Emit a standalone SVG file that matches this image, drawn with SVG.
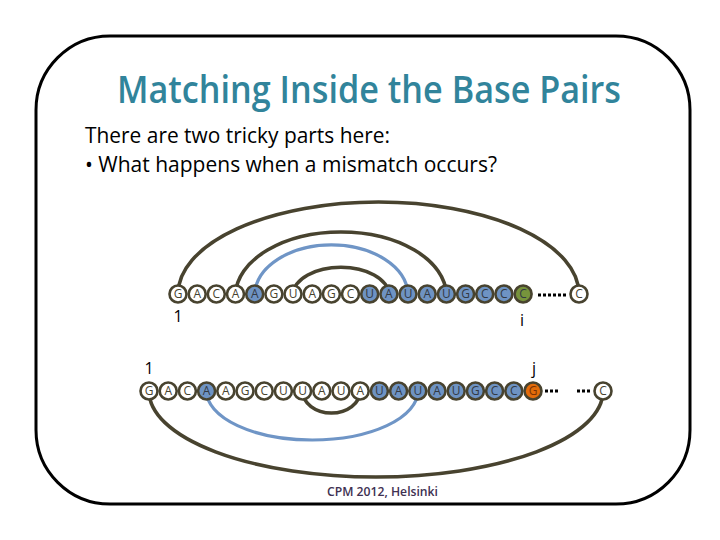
<svg xmlns="http://www.w3.org/2000/svg" width="720" height="540" viewBox="0 0 720 540">
<style>
.frame{fill:#fff;stroke:#000;stroke-width:3}
.title{font-family:"Open Sans","Liberation Sans",sans-serif;font-weight:600;font-size:38px;fill:#31849B}
.body{font-family:"Open Sans","Liberation Sans",sans-serif;font-size:22px;fill:#000}
.lbl{font-family:"Open Sans","Liberation Sans",sans-serif;font-size:16px;fill:#000}
.foot{font-family:"Open Sans","Liberation Sans",sans-serif;font-size:12px;font-weight:600;fill:#403152}
.arc{fill:none;stroke:#48432F;stroke-width:3.6}
.barc{fill:none;stroke:#6F95C6;stroke-width:3.2}
.dots{fill:none;stroke:#000;stroke-width:3;stroke-dasharray:3 2}
.n circle{stroke:#48432F;stroke-width:2.6}
.w circle{fill:#fff}
.b circle{fill:#6E93C3}
.g circle{fill:#77933C}
.o circle{fill:#E36C0A}
.n text{font-family:"Open Sans","Liberation Sans",sans-serif;font-size:12px;text-anchor:middle;fill:#48432F}
.b text,.g text{fill:#333a44}
.o text{fill:#7a3305}
</style>
<rect class="frame" x="36" y="36" width="654" height="468" rx="74" ry="74"/>
<text class="title" x="117" y="103" textLength="504" lengthAdjust="spacingAndGlyphs">Matching Inside the Base Pairs</text>
<text class="body" x="85" y="143" textLength="305" lengthAdjust="spacingAndGlyphs">There are two tricky parts here:</text>
<text class="body" x="85" y="172" textLength="412" lengthAdjust="spacingAndGlyphs">• What happens when a mismatch occurs?</text>
<g id="connectors">
<path class="arc" d="M178,294 A200.5,92 0 0 1 579,294"/>
<path class="arc" d="M235.5,294 A105.5,64 0 0 1 446.4,294"/>
<path class="barc" d="M254.7,294 A76.7,51 0 0 1 408,294"/>
<path class="arc" d="M293,294 A48,28 0 0 1 388.9,294"/>
<path class="arc" d="M149,391 A227,86 0 0 0 603,391"/>
<path class="barc" d="M206.6,391 A105.6,49 0 0 0 417.8,391"/>
<path class="arc" d="M302.6,391 A28.8,22 0 0 0 360.2,391"/>
<path class="dots" d="M538,295 H566"/>
<path class="dots" d="M545,391 H559 M577,391 H591"/>
</g>
<g id="top-row">
<g id="t0" class="n w"><circle cx="178" cy="294" r="8.5"/><text x="178" y="298.3">G</text></g>
<g id="t1" class="n w"><circle cx="197.2" cy="294" r="8.5"/><text x="197.2" y="298.3">A</text></g>
<g id="t2" class="n w"><circle cx="216.3" cy="294" r="8.5"/><text x="216.3" y="298.3">C</text></g>
<g id="t3" class="n w"><circle cx="235.5" cy="294" r="8.5"/><text x="235.5" y="298.3">A</text></g>
<g id="t4" class="n b"><circle cx="254.7" cy="294" r="8.5"/><text x="254.7" y="298.3">A</text></g>
<g id="t5" class="n w"><circle cx="273.9" cy="294" r="8.5"/><text x="273.9" y="298.3">G</text></g>
<g id="t6" class="n w"><circle cx="293" cy="294" r="8.5"/><text x="293" y="298.3">U</text></g>
<g id="t7" class="n w"><circle cx="312.2" cy="294" r="8.5"/><text x="312.2" y="298.3">A</text></g>
<g id="t8" class="n w"><circle cx="331.4" cy="294" r="8.5"/><text x="331.4" y="298.3">G</text></g>
<g id="t9" class="n w"><circle cx="350.5" cy="294" r="8.5"/><text x="350.5" y="298.3">C</text></g>
<g id="t10" class="n b"><circle cx="369.7" cy="294" r="8.5"/><text x="369.7" y="298.3">U</text></g>
<g id="t11" class="n b"><circle cx="388.9" cy="294" r="8.5"/><text x="388.9" y="298.3">A</text></g>
<g id="t12" class="n b"><circle cx="408" cy="294" r="8.5"/><text x="408" y="298.3">U</text></g>
<g id="t13" class="n b"><circle cx="427.2" cy="294" r="8.5"/><text x="427.2" y="298.3">A</text></g>
<g id="t14" class="n b"><circle cx="446.4" cy="294" r="8.5"/><text x="446.4" y="298.3">U</text></g>
<g id="t15" class="n b"><circle cx="465.6" cy="294" r="8.5"/><text x="465.6" y="298.3">G</text></g>
<g id="t16" class="n b"><circle cx="484.7" cy="294" r="8.5"/><text x="484.7" y="298.3">C</text></g>
<g id="t17" class="n b"><circle cx="503.9" cy="294" r="8.5"/><text x="503.9" y="298.3">C</text></g>
<g id="t18" class="n g"><circle cx="523.1" cy="294" r="8.5"/><text x="523.1" y="298.3">C</text></g>
<g id="t-end" class="n w"><circle cx="579" cy="294" r="8.5"/><text x="579" y="298.3">C</text></g>
</g>
<g id="bottom-row">
<g id="b0" class="n w"><circle cx="149" cy="391" r="8.5"/><text x="149" y="395.3">G</text></g>
<g id="b1" class="n w"><circle cx="168.2" cy="391" r="8.5"/><text x="168.2" y="395.3">A</text></g>
<g id="b2" class="n w"><circle cx="187.4" cy="391" r="8.5"/><text x="187.4" y="395.3">C</text></g>
<g id="b3" class="n b"><circle cx="206.6" cy="391" r="8.5"/><text x="206.6" y="395.3">A</text></g>
<g id="b4" class="n w"><circle cx="225.8" cy="391" r="8.5"/><text x="225.8" y="395.3">A</text></g>
<g id="b5" class="n w"><circle cx="245" cy="391" r="8.5"/><text x="245" y="395.3">G</text></g>
<g id="b6" class="n w"><circle cx="264.2" cy="391" r="8.5"/><text x="264.2" y="395.3">C</text></g>
<g id="b7" class="n w"><circle cx="283.4" cy="391" r="8.5"/><text x="283.4" y="395.3">U</text></g>
<g id="b8" class="n w"><circle cx="302.6" cy="391" r="8.5"/><text x="302.6" y="395.3">U</text></g>
<g id="b9" class="n w"><circle cx="321.8" cy="391" r="8.5"/><text x="321.8" y="395.3">A</text></g>
<g id="b10" class="n w"><circle cx="341" cy="391" r="8.5"/><text x="341" y="395.3">U</text></g>
<g id="b11" class="n w"><circle cx="360.2" cy="391" r="8.5"/><text x="360.2" y="395.3">A</text></g>
<g id="b12" class="n b"><circle cx="379.4" cy="391" r="8.5"/><text x="379.4" y="395.3">U</text></g>
<g id="b13" class="n b"><circle cx="398.6" cy="391" r="8.5"/><text x="398.6" y="395.3">A</text></g>
<g id="b14" class="n b"><circle cx="417.8" cy="391" r="8.5"/><text x="417.8" y="395.3">U</text></g>
<g id="b15" class="n b"><circle cx="437" cy="391" r="8.5"/><text x="437" y="395.3">A</text></g>
<g id="b16" class="n b"><circle cx="456.2" cy="391" r="8.5"/><text x="456.2" y="395.3">U</text></g>
<g id="b17" class="n b"><circle cx="475.4" cy="391" r="8.5"/><text x="475.4" y="395.3">G</text></g>
<g id="b18" class="n b"><circle cx="494.6" cy="391" r="8.5"/><text x="494.6" y="395.3">C</text></g>
<g id="b19" class="n b"><circle cx="513.8" cy="391" r="8.5"/><text x="513.8" y="395.3">C</text></g>
<g id="b20" class="n o"><circle cx="533" cy="391" r="8.5"/><text x="533" y="395.3">G</text></g>
<g id="b-end" class="n w"><circle cx="603" cy="391" r="8.5"/><text x="603" y="395.3">C</text></g>
</g>
<g id="labels">
<text class="lbl" x="178" y="322" text-anchor="middle">1</text>
<text class="lbl" x="522" y="326" text-anchor="middle">i</text>
<text class="lbl" x="149" y="374" text-anchor="middle">1</text>
<text class="lbl" x="534" y="374" text-anchor="middle">j</text>
</g>
<text class="foot" x="382.5" y="496" text-anchor="middle" textLength="111" lengthAdjust="spacingAndGlyphs">CPM 2012, Helsinki</text>
</svg>
